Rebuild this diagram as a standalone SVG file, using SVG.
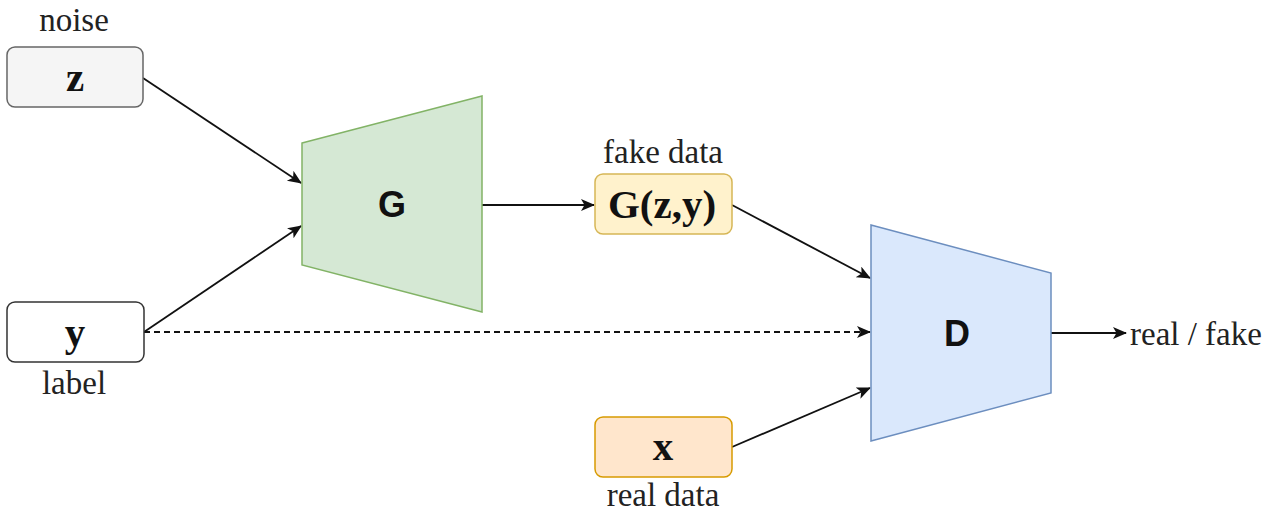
<svg xmlns="http://www.w3.org/2000/svg" width="1278" height="515" viewBox="0 0 1278 515">
<defs>
<marker id="arr" markerUnits="userSpaceOnUse" markerWidth="16" markerHeight="14" refX="13" refY="6" orient="auto">
<path d="M0,0 L14,6 L0,12 L3.5,6 z" fill="#111"/>
</marker>
</defs>
<style>
.lbl{font-family:"Liberation Serif","Times New Roman",serif;font-size:33px;fill:#222;text-anchor:middle}
.var{font-family:"Liberation Serif","Times New Roman",serif;font-size:41px;font-weight:bold;fill:#111;text-anchor:middle}
.net{font-family:"Liberation Sans",Arial,sans-serif;font-size:36px;font-weight:bold;fill:#111;text-anchor:middle}
.edge{stroke:#111;stroke-width:1.8;fill:none;marker-end:url(#arr)}
</style>
<rect width="1278" height="515" fill="#fff"/>
<g id="connectors">
<line class="edge" x1="143" y1="78" x2="301" y2="183"/>
<line class="edge" x1="144" y1="332" x2="301" y2="226"/>
<line class="edge" x1="482" y1="205" x2="594" y2="205"/>
<line class="edge" x1="732" y1="205" x2="870" y2="278"/>
<line class="edge" x1="144" y1="332" x2="870" y2="332" stroke-dasharray="6,4"/>
<line class="edge" x1="732" y1="447" x2="870" y2="388"/>
<line class="edge" x1="1051" y1="333" x2="1126" y2="333"/>
</g>
<g id="z">
<text class="lbl" x="74" y="31">noise</text>
<rect x="7" y="47" width="136" height="60" rx="8" fill="#f5f5f5" stroke="#666" stroke-width="1.5"/>
<text class="var" x="75" y="91">z</text>
</g>
<g id="y">
<rect x="7" y="302" width="137" height="60" rx="8" fill="#fff" stroke="#333" stroke-width="1.5"/>
<text class="var" x="75" y="346">y</text>
<text class="lbl" x="74" y="394">label</text>
</g>
<g id="G">
<polygon points="302,143 482,96 482,312 302,265" fill="#d5e8d4" stroke="#82b366" stroke-width="1.5"/>
<text class="net" x="392" y="217">G</text>
</g>
<g id="Gzy">
<text class="lbl" x="663" y="163">fake data</text>
<rect x="595" y="174" width="137" height="60" rx="8" fill="#fff2cc" stroke="#d6b656" stroke-width="1.5"/>
<text class="var" x="662" y="218">G(z,y)</text>
</g>
<g id="x">
<rect x="595" y="417" width="137" height="60" rx="8" fill="#ffe6cc" stroke="#d79b00" stroke-width="1.5"/>
<text class="var" x="663" y="460">x</text>
<text class="lbl" x="663" y="506">real data</text>
</g>
<g id="D">
<polygon points="871,225 1051,273 1051,393 871,441" fill="#dae8fc" stroke="#6c8ebf" stroke-width="1.5"/>
<text class="net" x="957" y="346">D</text>
</g>
<g id="out">
<text class="lbl" x="1130" y="345" style="text-anchor:start">real / fake</text>
</g>
</svg>
